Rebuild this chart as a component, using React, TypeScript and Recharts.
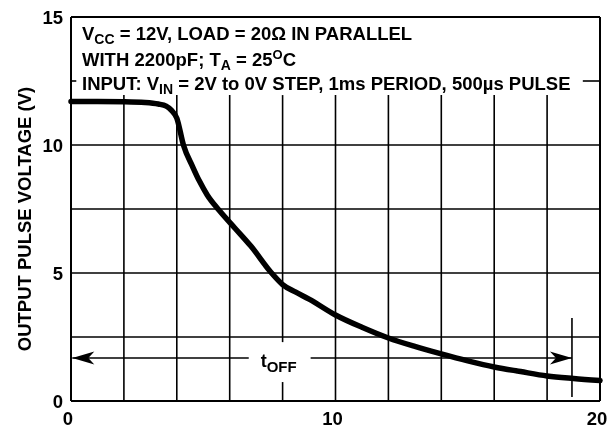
import React from 'react';
import { LineChart, Line, XAxis, YAxis, ReferenceLine, ReferenceDot, Customized } from 'recharts';

// ---- data ----
const timeValues = [0, 1, 2, 2.8, 3.3, 3.6, 3.8, 4.0, 4.25, 4.6, 4.85, 5.15, 5.6, 6.2, 6.8, 7.55, 8, 8.5, 9, 10, 11, 12, 13, 14, 15, 16, 17, 18, 19, 20];
const voltageValues = [11.7, 11.7, 11.69, 11.66, 11.6, 11.52, 11.35, 11.05, 10.0, 9.15, 8.6, 8.05, 7.45, 6.75, 6.05, 5.04, 4.55, 4.25, 3.98, 3.36, 2.88, 2.46, 2.13, 1.84, 1.57, 1.33, 1.15, 0.98, 0.88, 0.8];

const xTicks = [0, 10, 20];
const yTicks = [0, 5, 10, 15];
const xDomain: [number, number] = [0, 20];
const yDomain: [number, number] = [0, 15];
const gridXValues = [2, 4, 6, 10, 12, 14, 16, 18];
const gridYValues = [2.5, 5, 7.5, 10];

// annotation geometry (data units)
const noteBoxBottom = 11.95;
const topGridY = 12.5;
const topGridLeftEnd = 0.2;
const topGridRightStart = 19.35;
const brokenGridX = 8;
const toffLabelLow = 0.74;
const toffLabelHigh = 2.3;
const arrowY = 1.68;
const arrowStart = 0.05;
const arrowEnd = 18.94;
const arrowGapStart = 6.72;
const arrowGapEnd = 9.06;
const toffLabelX = 7.85;
const markerLow = 0.16;
const markerHigh = 3.24;

const data = timeValues.map((t, i) => ({ t, v: voltageValues[i] }));

const FONT = '"Liberation Sans", Arial, Helvetica, sans-serif';
const INK = '#000';
const FS = 18.5;

const seg = (x1: number, y1: number, x2: number, y2: number) => [
  { x: x1, y: y1 },
  { x: x2, y: y2 },
];

const ArrowHead = ({ cx, cy, dir }: any) => {
  const s = dir; // 1 right, -1 left
  const d = `M ${cx} ${cy} L ${cx - s * 22} ${cy - 6.5} L ${cx - s * 16} ${cy} L ${cx - s * 22} ${cy + 6.5} Z`;
  return <path d={d} fill={INK} stroke="none" />;
};

const ToffLabel = ({ cx, cy }: any) => (
  <text x={cx} y={cy + 9.5} textAnchor="middle" fontFamily={FONT} fontWeight="bold" fontSize={18} fill={INK}>
    t
    <tspan fontSize={15} dy={5}>OFF</tspan>
  </text>
);

const XTick = ({ x, y, payload }: any) => (
  <text x={x - 3} y={y} dy="0.71em" textAnchor="middle" fontFamily={FONT} fontWeight="bold" fontSize={FS} fill={INK}>
    {payload.value}
  </text>
);

const YTick = ({ x, y, payload }: any) => (
  <text x={x} y={y} dy="0.355em" textAnchor="end" fontFamily={FONT} fontWeight="bold" fontSize={FS} fill={INK}>
    {payload.value}
  </text>
);

const Notes = () => (
  <g fontFamily={FONT} fontWeight="bold" fill={INK}>
    <text x={74} y={31.5} fontSize={FS}>
      V<tspan fontSize={14} dy={4}>CC</tspan>
      <tspan dy={-4}> = 12V, LOAD = 20Ω IN PARALLEL</tspan>
    </text>
    <text x={74} y={58} fontSize={FS}>
      WITH 2200pF; T<tspan fontSize={14} dy={4}>A</tspan>
      <tspan dy={-4}> = 25</tspan>
      <tspan fontSize={13} dy={-7}>O</tspan>
      <tspan dy={7}>C</tspan>
    </text>
    <text x={74} y={82} fontSize={FS}>
      INPUT: V<tspan fontSize={14} dy={4}>IN</tspan>
      <tspan dy={-4}> = 2V to 0V STEP, 1ms PERIOD, 500µs PULSE</tspan>
    </text>
  </g>
);

export default function App() {
  const lineProps = { stroke: INK, strokeWidth: 1.6, ifOverflow: 'visible' as const };
  return (
    <div style={{ position: 'fixed', left: 8, top: 8 }}>
      <LineChart width={602} height={425} data={data} margin={{ top: 9, right: 10, bottom: 0, left: 0 }} style={{ overflow: 'visible' }}>
        <XAxis
          dataKey="t"
          type="number"
          domain={xDomain}
          ticks={xTicks}
          axisLine={false}
          tickLine={false}
          tickMargin={5}
          height={32}
          tick={<XTick />}
        />
        <YAxis
          type="number"
          domain={yDomain}
          ticks={yTicks}
          axisLine={false}
          tickLine={false}
          width={63}
          tick={<YTick />}
          label={{
            content: (p: any) => {
              const vb = p.viewBox || { x: 0, y: 0, width: 63, height: 384 };
              const cx = vb.x + 16;
              const cy = vb.y + vb.height / 2 + 10;
              return (
                <text
                  x={cx}
                  y={cy}
                  transform={`rotate(-90 ${cx} ${cy})`}
                  textAnchor="middle"
                  dominantBaseline="central"
                  fontFamily={FONT}
                  fontWeight="bold"
                  fontSize={FS}
                  fill={INK}
                >
                  OUTPUT PULSE VOLTAGE (V)
                </text>
              );
            },
          }}
        />

        {gridXValues.map((x) => (
          <ReferenceLine key={`gx${x}`} segment={seg(x, 0, x, noteBoxBottom)} {...lineProps} />
        ))}
        <ReferenceLine segment={seg(brokenGridX, 0, brokenGridX, toffLabelLow)} {...lineProps} />
        <ReferenceLine segment={seg(brokenGridX, toffLabelHigh, brokenGridX, noteBoxBottom)} {...lineProps} />
        {gridYValues.map((y) => (
          <ReferenceLine key={`gy${y}`} segment={seg(xDomain[0], y, xDomain[1], y)} {...lineProps} />
        ))}
        <ReferenceLine segment={seg(xDomain[0], topGridY, topGridLeftEnd, topGridY)} {...lineProps} />
        <ReferenceLine segment={seg(topGridRightStart, topGridY, xDomain[1], topGridY)} {...lineProps} />

        {/* plot frame */}
        <ReferenceLine x={xDomain[0]} stroke={INK} strokeWidth={2} ifOverflow="visible" />
        <ReferenceLine x={xDomain[1]} stroke={INK} strokeWidth={2} ifOverflow="visible" />
        <ReferenceLine y={yDomain[0]} stroke={INK} strokeWidth={2} ifOverflow="visible" />
        <ReferenceLine y={yDomain[1]} stroke={INK} strokeWidth={2} ifOverflow="visible" />

        {/* t_OFF arrow */}
        <ReferenceLine segment={seg(arrowStart, arrowY, arrowGapStart, arrowY)} {...lineProps} />
        <ReferenceLine segment={seg(arrowGapEnd, arrowY, arrowEnd, arrowY)} {...lineProps} />
        <ReferenceLine segment={seg(arrowEnd, markerLow, arrowEnd, markerHigh)} {...lineProps} />
        <ReferenceDot x={arrowStart} y={arrowY} ifOverflow="visible" shape={(p: any) => <ArrowHead {...p} dir={-1} />} />
        <ReferenceDot x={arrowEnd} y={arrowY} ifOverflow="visible" shape={(p: any) => <ArrowHead {...p} dir={1} />} />
        <ReferenceDot x={toffLabelX} y={arrowY} ifOverflow="visible" shape={(p: any) => <ToffLabel {...p} />} />

        <Line
          dataKey="v"
          type="monotone"
          stroke={INK}
          strokeWidth={5.5}
          dot={false}
          activeDot={false}
          isAnimationActive={false}
          strokeLinecap="round"
        />
        <Customized component={Notes} />
      </LineChart>
    </div>
  );
}
